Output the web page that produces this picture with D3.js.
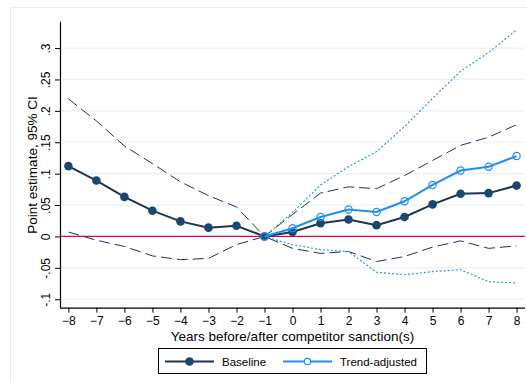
<!DOCTYPE html>
<html>
<head>
<meta charset="utf-8">
<script src="https://cdn.jsdelivr.net/npm/d3@7"></script>
<style>
  body { margin: 0; background: #fff; }
  svg { display: block; font-family: "Liberation Sans", Arial, sans-serif; }
</style>
</head>
<body>
<div id="chart"></div>
<script>
////////////////////////////////////////////////////////////////////////
// Event-study plot: point estimates and 95% CIs by year
////////////////////////////////////////////////////////////////////////

// years relative to sanction
var years = [-8, -7, -6, -5, -4, -3, -2, -1, 0, 1, 2, 3, 4, 5, 6, 7, 8];
var trendYears = [-1, 0, 1, 2, 3, 4, 5, 6, 7, 8];

// baseline estimate and CI
var baseline = [0.112, 0.089, 0.063, 0.041, 0.024, 0.014, 0.017, 0, 0.007, 0.021, 0.027, 0.018, 0.031, 0.051, 0.068, 0.069, 0.081];
var baseHi   = [0.219, 0.184, 0.144, 0.116, 0.087, 0.065, 0.047, 0, 0.035, 0.069, 0.079, 0.076, 0.097, 0.121, 0.145, 0.158, 0.178];
var baseLo   = [0.007, -0.006, -0.016, -0.031, -0.037, -0.035, -0.013, 0, -0.019, -0.027, -0.024, -0.040, -0.032, -0.017, -0.007, -0.019, -0.015];

// trend-adjusted estimate and CI
var trend   = [0, 0.013, 0.031, 0.043, 0.039, 0.056, 0.082, 0.105, 0.111, 0.128];
var trendHi = [0, 0.038, 0.082, 0.111, 0.135, 0.175, 0.220, 0.263, 0.293, 0.329];
var trendLo = [0, -0.013, -0.021, -0.024, -0.057, -0.061, -0.056, -0.053, -0.072, -0.074];

var yTicks = [-0.1, -0.05, 0, 0.05, 0.1, 0.15, 0.2, 0.25, 0.3];
var yTickLabels = ["-.1", "-.05", "0", ".05", ".1", ".15", ".2", ".25", ".3"];
var legendLabels = ["Baseline", "Trend-adjusted"];

var width = 527, height = 383;
var navy = "#1a476f", navyLine = "#1f3354", lightBlue = "#1f8ef1", red = "#d0103a";

var svg = d3.select("#chart").append("svg")
  .attr("width", width)
  .attr("height", height);

// light outer frame
svg.append("rect")
  .attr("x", 10.5).attr("y", 7.5)
  .attr("width", 540).attr("height", 400)
  .attr("fill", "none").attr("stroke", "#e6eef1");

var x = d3.scaleLinear().domain([-8.3, 8.3]).range([60, 525]);
var y = d3.scaleLinear().domain([-0.1135, 0.342]).range([307.7, 21.7]);

// gridlines
svg.append("g").selectAll("line")
  .data(yTicks.filter(function(d) { return d !== 0; }))
  .enter().append("line")
  .attr("x1", 61).attr("x2", 525)
  .attr("y1", function(d) { return y(d); })
  .attr("y2", function(d) { return y(d); })
  .attr("stroke", "#eaf1f3").attr("stroke-width", 1.2);

// y axis
var yAxis = svg.append("g")
  .attr("transform", "translate(60,0)")
  .call(d3.axisLeft(y).tickValues(yTicks).tickSize(5).tickPadding(4)
    .tickFormat(function(d, i) { return yTickLabels[i]; }));
yAxis.select(".domain").attr("d", "M0.5," + y.range()[1] + "V" + y.range()[0]).attr("stroke", "#000").attr("stroke-width", 1.2);
yAxis.selectAll(".tick line").attr("stroke", "#000");
yAxis.selectAll("text")
  .attr("font-size", 12).attr("fill", "#000")
  .attr("transform", "rotate(-90)")
  .attr("x", 0).attr("y", -10)
  .attr("dy", 0)
  .attr("text-anchor", "middle");

// x axis
var xAxis = svg.append("g")
  .attr("transform", "translate(0,307.7)")
  .call(d3.axisBottom(x).tickValues(years).tickSize(5).tickPadding(2)
    .tickFormat(d3.format("d")));
xAxis.select(".domain").attr("d", "M60,0.5H525").attr("stroke", "#000").attr("stroke-width", 1.2);
xAxis.selectAll(".tick line").attr("stroke", "#000");
xAxis.selectAll("text").attr("font-size", 12).attr("fill", "#000").attr("dy", "0.9em");

// axis titles
svg.append("text")
  .attr("x", 292.5).attr("y", 341)
  .attr("text-anchor", "middle").attr("font-size", 13.5)
  .text("Years before/after competitor sanction(s)");

svg.append("text")
  .attr("transform", "translate(37,165) rotate(-90)")
  .attr("text-anchor", "middle").attr("font-size", 13.5)
  .text("Point estimate, 95% CI");

// zero line
svg.append("line")
  .attr("x1", 61).attr("x2", 525)
  .attr("y1", y(0)).attr("y2", y(0))
  .attr("stroke", red).attr("stroke-width", 1.2);

var line = d3.line()
  .x(function(d) { return x(d[0]); })
  .y(function(d) { return y(d[1]); });

function pairs(xs, ys) { return xs.map(function(v, i) { return [v, ys[i]]; }); }

// CI lines
svg.append("path").datum(pairs(years, baseHi))
  .attr("d", line).attr("fill", "none")
  .attr("stroke", navyLine).attr("stroke-width", 1).attr("stroke-dasharray", "11,5");
svg.append("path").datum(pairs(years, baseLo))
  .attr("d", line).attr("fill", "none")
  .attr("stroke", navyLine).attr("stroke-width", 1).attr("stroke-dasharray", "11,5");
svg.append("path").datum(pairs(trendYears, trendHi))
  .attr("d", line).attr("fill", "none")
  .attr("stroke", lightBlue).attr("stroke-width", 1.1).attr("stroke-dasharray", "2,2");
svg.append("path").datum(pairs(trendYears, trendLo))
  .attr("d", line).attr("fill", "none")
  .attr("stroke", lightBlue).attr("stroke-width", 1.1).attr("stroke-dasharray", "2,2");

// baseline series
svg.append("path").datum(pairs(years, baseline))
  .attr("d", line).attr("fill", "none")
  .attr("stroke", navyLine).attr("stroke-width", 2);
svg.append("g").selectAll("circle")
  .data(pairs(years, baseline))
  .enter().append("circle")
  .attr("cx", function(d) { return x(d[0]); })
  .attr("cy", function(d) { return y(d[1]); })
  .attr("r", 4.3).attr("fill", navy);

// trend-adjusted series
svg.append("path").datum(pairs(trendYears, trend))
  .attr("d", line).attr("fill", "none")
  .attr("stroke", lightBlue).attr("stroke-width", 2);
svg.append("g").selectAll("circle")
  .data(pairs(trendYears, trend))
  .enter().append("circle")
  .attr("cx", function(d) { return x(d[0]); })
  .attr("cy", function(d) { return y(d[1]); })
  .attr("r", 3.6).attr("fill", "none")
  .attr("stroke", lightBlue).attr("stroke-width", 1.2);

// legend
var legend = svg.append("g");
legend.append("rect")
  .attr("x", 158.5).attr("y", 348.5).attr("width", 268).attr("height", 25)
  .attr("fill", "#fff").attr("stroke", "#000").attr("stroke-width", 1);

var legendItems = [
  { label: legendLabels[0], x0: 165, color: navyLine, fill: navy, r: 4.3 },
  { label: legendLabels[1], x0: 283, color: lightBlue, fill: "none", r: 3.2 }
];
legendItems.forEach(function(it) {
  legend.append("line")
    .attr("x1", it.x0).attr("x2", it.x0 + 49)
    .attr("y1", 361.5).attr("y2", 361.5)
    .attr("stroke", it.color).attr("stroke-width", 2);
  legend.append("circle")
    .attr("cx", it.x0 + 24.5).attr("cy", 361.5).attr("r", it.r)
    .attr("fill", it.fill === "none" ? "#fff" : it.fill)
    .attr("stroke", it.fill === "none" ? it.color : "none")
    .attr("stroke-width", 1.2);
  legend.append("text")
    .attr("x", it.x0 + 57).attr("y", 365.5)
    .attr("font-size", 11.5)
    .text(it.label);
});
</script>
</body>
</html>
